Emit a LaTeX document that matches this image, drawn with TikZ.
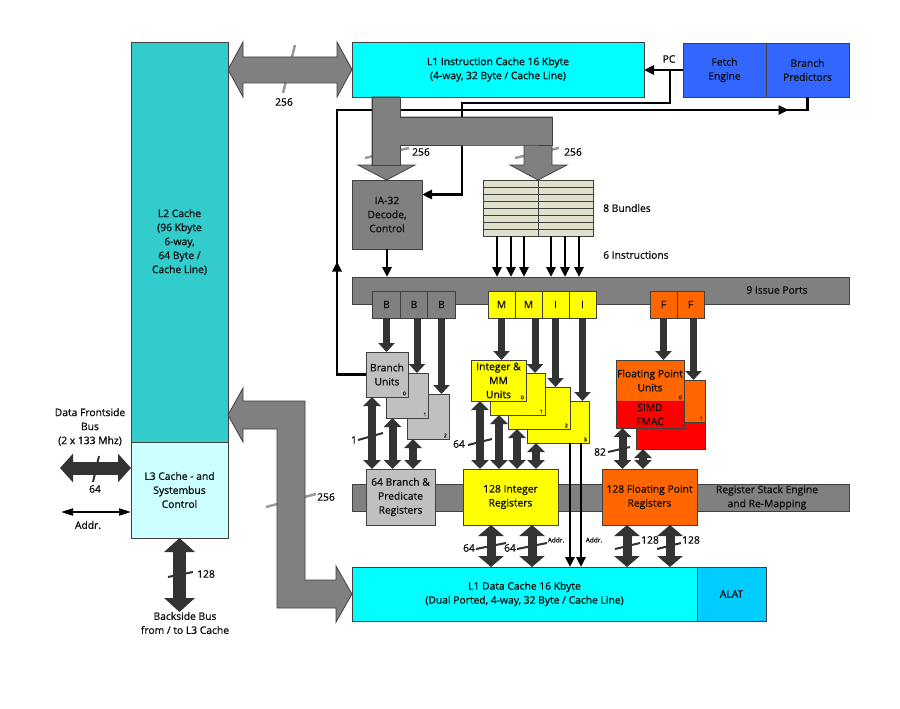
\documentclass[tikz,border=0pt]{standalone}
\usepackage{fontspec}
\setmainfont{Open Sans}[FakeBold=1.2]
\usetikzlibrary{arrows.meta,calc,decorations.markings}
\definecolor{teal2}{HTML}{33CCCC}
\definecolor{lcyan}{HTML}{CCFFFF}
\definecolor{cyan1}{HTML}{00FFFF}
\definecolor{alat}{HTML}{00CCFF}
\definecolor{blue1}{HTML}{3366FF}
\definecolor{gray1}{HTML}{808080}
\definecolor{lgray}{HTML}{C0C0C0}
\definecolor{yel}{HTML}{FFFF00}
\definecolor{orng}{HTML}{FF6600}
\definecolor{red1}{HTML}{FF0000}
\definecolor{darkc}{HTML}{333333}
\definecolor{bord}{HTML}{404040}
\definecolor{bund}{HTML}{E0E0CC}
\definecolor{slashc}{HTML}{999999}
\definecolor{txt}{HTML}{111111}
\begin{document}
\begin{tikzpicture}[x=1pt,y=-1pt,
  font=\fontsize{10.3}{14}\selectfont,
  blk/.style={draw=bord, line width=0.8pt, inner sep=0pt, outer sep=0pt, align=center, text=txt},
  lab/.style={text=txt, inner sep=0pt, align=center},
  small/.style={text=txt, inner sep=0pt, font=\fontsize{6.5}{7}\selectfont},
  idx/.style={text=txt, inner sep=0pt, font=\fontsize{5}{5}\selectfont, anchor=south east},
  garr/.style={fill=gray1, draw=bord, line width=0.8pt, line join=miter},
  parr/.style={draw=darkc, line width=7pt, -{Triangle[width=16pt,length=9pt]}},
  udarr/.style={draw=darkc, line width=8pt, {Triangle[width=17pt,length=9pt]}-{Triangle[width=17pt,length=9pt]}},
  bdarr/.style={draw=darkc, line width=9pt, {Triangle[width=25pt,length=11pt]}-{Triangle[width=25pt,length=11pt]}},
  busarr/.style={draw=darkc, line width=13pt, {Triangle[width=28pt,length=13pt]}-{Triangle[width=28pt,length=13pt]}},
  bline/.style={draw=black, line width=2.5pt},
  btip/.style={-{Triangle[width=9pt,length=10pt]}},
  slash/.style={draw=slashc, line width=2.5pt},
  dslash/.style={draw=darkc, line width=2pt}]
\useasboundingbox[fill=white] (0,0) rectangle (900,709);

% ---------- top blocks ----------
\node[blk, fill=blue1, minimum width=83pt, minimum height=54pt] (fetch) at (724.5,70) {Fetch\\Engine};
\node[blk, fill=blue1, minimum width=83pt, minimum height=54pt] (pred) at (807.5,70) {Branch\\Predictors};
\node[blk, fill=cyan1, minimum width=292pt, minimum height=55pt] (l1i) at (498,69.5) {L1 Instruction Cache 16 Kbyte\\(4-way, 32 Byte / Cache Line)};
\node[blk, fill=gray1, minimum width=70pt, minimum height=69pt] (dec) at (387,214.5) {IA-32\\Decode,\\Control};

\coordinate (pcj) at (670,69.5);
\coordinate (dj) at (462,103);
\coordinate (dtarget) at ([yshift=20pt]dec.east);
\draw[bline, btip] (fetch.west) -- (fetch.west -| l1i.east);
\node[lab] (pc) at (669,59) {PC};
\draw[bline, btip] (pcj) |- (dj) |- (dtarget);

% ---------- gray buses ----------
\draw[slash] (295,45) -- (283,93);
\draw[garr] (228,69.5) -- (243,42) -- (243,57) -- (337,57) -- (337,42) -- (352,69.5) -- (337,97) -- (337,83) -- (243,83) -- (243,97) -- cycle;
\node[lab] (n256a) at (284,102) {256};

\draw[slash] (365,158) -- (409,148);
\draw[slash] (515,158) -- (559,148);

% ---------- bundles ----------
\node[blk, fill=bund, minimum width=110pt, minimum height=56pt] (bund) at (538,208) {};
\foreach \i in {1,...,7} \draw[draw=bord, line width=0.8pt] ([yshift=-7*\i pt]bund.north west) -- ([yshift=-7*\i pt]bund.north east);
\draw[draw=bord, line width=0.8pt] (bund.north) -- (bund.south);
\node[lab, anchor=west] (nb) at (603,208) {8 Bundles};

% ---------- issue ports ----------
\node[blk, fill=gray1, minimum width=497pt, minimum height=27pt] (issue) at (600.5,290.5) {};
\node[lab] (nip) at (777,290) {9 Issue Ports};
\node[lab, anchor=west] (ni) at (603,255) {6 Instructions};
\foreach \d [count=\k] in {14,28,41,68,82,96} {
  \coordinate (ia\k) at ([xshift=\d pt]bund.south west);
  \draw[bline, btip] (ia\k) -- (ia\k |- issue.north);
}
\draw[bline, btip] (dec.south) -- (dec.south |- issue.north);

% L1I to decode/bundles bus
\draw[garr] (372,97) -- (400,97) -- (400,117) -- (552,117) -- (552,165) -- (567,165) -- (538,180) -- (510,165) -- (524,165) -- (524,145) -- (400,145) -- (400,165) -- (415,165) -- (386.5,180) -- (358,165) -- (372,165) -- cycle;
\node[lab] (n256b) at (421,152) {256};
\node[lab] (n256c) at (573,152) {256};

\node[blk, fill=gray1, minimum width=27.5pt, minimum height=27pt] (b1) at (386.5,304.5) {B};
\node[blk, fill=gray1, minimum width=27.5pt, minimum height=27pt] (b2) at (414,304.5) {B};
\node[blk, fill=gray1, minimum width=27.5pt, minimum height=27pt] (b3) at (441.5,304.5) {B};
\node[blk, fill=yel, minimum width=27pt, minimum height=27pt] (m1) at (501.5,304.5) {M};
\node[blk, fill=yel, minimum width=27pt, minimum height=27pt] (m2) at (528.5,304.5) {M};
\node[blk, fill=yel, minimum width=27pt, minimum height=27pt] (i1) at (555.5,304.5) {I};
\node[blk, fill=yel, minimum width=27pt, minimum height=27pt] (i2) at (582.5,304.5) {I};
\node[blk, fill=orng, minimum width=27pt, minimum height=27pt] (f1) at (663.5,304.5) {F};
\node[blk, fill=orng, minimum width=27pt, minimum height=27pt] (f2) at (690.5,304.5) {F};

% ---------- register stack bar ----------
\node[blk, fill=gray1, minimum width=497pt, minimum height=27pt] (rse) at (600.5,497.5) {};
\node[lab] (nrse) at (767,497.5) {Register Stack Engine\\and Re-Mapping};

% ---------- execution units ----------
\node[blk, fill=lgray, minimum width=42pt, minimum height=45pt] (bu2) at (428,416.5) {};
\node[blk, fill=lgray, minimum width=42pt, minimum height=45pt] (bu1) at (407.5,395.5) {};
\node[blk, fill=lgray, minimum width=42pt, minimum height=45pt] (bu0) at (387,374.5) {Branch\\Units};
\node[idx] (ib2) at ([xshift=-2pt,yshift=1.5pt]bu2.south east) {2};
\node[idx] (ib1) at ([xshift=-2pt,yshift=1.5pt]bu1.south east) {1};
\node[idx] (ib0) at ([xshift=-2pt,yshift=1.5pt]bu0.south east) {0};

\node[blk, fill=yel, minimum width=62pt, minimum height=42pt] (int3) at (558,422) {};
\node[blk, fill=yel, minimum width=62pt, minimum height=42pt] (int2) at (539,408) {};
\node[blk, fill=yel, minimum width=55pt, minimum height=42pt] (int1) at (517.5,394) {};
\node[blk, fill=yel, minimum width=55pt, minimum height=41pt] (int0) at (498.5,380.5) {Integer \&\\MM\\Units};
\node[idx] (ii3) at ([xshift=-2pt,yshift=1.5pt]int3.south east) {3};
\node[idx] (ii2) at ([xshift=-2pt,yshift=1.5pt]int2.south east) {2};
\node[idx] (ii1) at ([xshift=-2pt,yshift=1.5pt]int1.south east) {1};
\node[idx] (ii0) at ([xshift=-2pt,yshift=1.5pt]int0.south east) {0};

\node[blk, fill=orng, minimum width=69pt, minimum height=42pt] (fp1) at (670.5,401) {};
\node[blk, fill=red1, minimum width=69pt, minimum height=27pt] (fm1) at (670.5,435.5) {};
\node[blk, fill=orng, minimum width=68pt, minimum height=41pt] (fp0) at (650,380.5) {Floating Point\\Units};
\node[blk, fill=red1, minimum width=68pt, minimum height=27pt] (fm0) at (650,414.5) {SIMD\\FMAC};
\node[idx] (if1) at ([xshift=-2pt,yshift=1.5pt]fp1.south east) {1};
\node[idx] (if0) at ([xshift=-2pt,yshift=1.5pt]fp0.south east) {0};

% ---------- registers ----------
\node[blk, fill=lgray, minimum width=69pt, minimum height=56pt] (breg) at (400.5,497) {64 Branch \&\\Predicate\\Registers};
\node[blk, fill=yel, minimum width=95pt, minimum height=56pt] (ireg) at (510.5,497) {128 Integer\\Registers};
\node[blk, fill=orng, minimum width=95pt, minimum height=56pt] (freg) at (649.5,497) {128 Floating Point\\Registers};

% ---------- L1 data cache ----------
\node[blk, fill=cyan1, minimum width=345pt, minimum height=54pt] (l1d) at (524.5,594) {L1 Data Cache 16 Kbyte\\(Dual Ported, 4-way, 32 Byte / Cache Line)};
\node[blk, fill=alat, minimum width=69pt, minimum height=54pt] (alat) at (731.5,594) {ALAT};

% ---------- L2 / L3 ----------
\node[blk, fill=teal2, minimum width=97pt, minimum height=400pt] (l2) at (179.5,242) {L2 Cache\\(96 Kbyte\\6-way,\\64 Byte /\\Cache Line)};
\node[blk, fill=lcyan, minimum width=97pt, minimum height=96pt] (l3) at (179.5,490) {L3 Cache - and\\Systembus\\Control};

% branch feedback line
\coordinate (bj1) at (337,110);
\draw[bline, postaction={decorate}, decoration={markings,
   mark=at position 142pt with {\arrow{Triangle[width=9pt,length=10pt]}},
   mark=at position 745pt with {\arrow{Triangle[width=9pt,length=10pt]}}}]
   (bu0.west) -| (bj1) -| (pred.south);
% redraw bus over feedback line
\draw[garr] (372,97) -- (400,97) -- (400,117) -- (552,117) -- (552,145) -- (524,145) -- (400,145) -- (400,165) -- (372,165) -- cycle;
\fill[gray1] (373,98) rectangle (399,164) (401,118) rectangle (551,144);

% port arrows
\draw[parr] (b1.south) -- (b1.south |- bu0.north);
\coordinate (pb2) at ([xshift=3pt]b2.south);
\draw[parr] (pb2) -- (pb2 |- bu1.north);
\draw[parr] (b3.south) -- (b3.south |- bu2.north);
\draw[parr] (m1.south) -- (m1.south |- int0.north);
\coordinate (pm2) at ([xshift=6.5pt]m2.south);
\draw[parr] (pm2) -- (pm2 |- int1.north);
\draw[parr] (i1.south) -- (i1.south |- int2.north);
\draw[parr] (i2.south) -- (i2.south |- int3.north);
\draw[parr] (f1.south) -- (f1.south |- fp0.north);
\coordinate (pf2) at ([xshift=3pt]f2.south);
\draw[parr] (pf2) -- (pf2 |- fp1.north);

% unit <-> register arrows
\draw[dslash] (358,440) -- (383,433);
\node[lab] (n1) at (354,440) {1};
\foreach \u in {bu0,bu1,bu2} {
  \coordinate (q\u) at ([xshift=6pt]\u.south west);
  \draw[udarr] (q\u) -- (q\u |- breg.north);
}
\draw[dslash] (468,445) -- (492,439);
\node[lab] (n64a) at (459,444) {64};
\foreach \u in {int0,int1,int2,int3} {
  \coordinate (q\u) at ([xshift=9pt]\u.south west);
  \draw[udarr] (q\u) -- (q\u |- ireg.north);
}
\draw[dslash] (608,452) -- (630,447);
\node[lab] (n82) at (600,452) {82};
\coordinate (qfm0) at ([xshift=6.5pt]fm0.south west);
\draw[udarr] (qfm0) -- (qfm0 |- freg.north);
\coordinate (qfm1) at ([xshift=7pt]fm1.south west);
\draw[udarr] (qfm1) -- (qfm1 |- freg.north);

% address lines
\coordinate (ad1) at ([xshift=43pt]int3.south west);
\coordinate (ad2) at ([xshift=54pt]int3.south west);
\draw[bline, btip] (ad1) -- (ad1 |- l1d.north);
\draw[bline, btip] (ad2) -- (ad2 |- l1d.north);
\node[small] (na1) at (556,540) {Addr.};
\node[small] (na2) at (594,540) {Addr.};

% register <-> L1D arrows
\draw[dslash] (476,549) -- (506,543);
\draw[dslash] (517,549) -- (547,543);
\draw[dslash] (615,549) -- (640,543);
\draw[dslash] (657,549) -- (681,543);
\foreach \s/\n in {28/ireg,69/ireg,25/freg,68/freg} {
  \coordinate (r\s) at ([xshift=\s pt]\n.south west);
  \draw[bdarr] (r\s) -- (r\s |- l1d.north);
}
\node[lab] (n64b) at (469,548) {64};
\node[lab] (n64c) at (510,548) {64};
\node[lab] (n128a) at (650,540) {128};
\node[lab] (n128b) at (691,540) {128};

% L1D -> L2 bus
\draw[slash] (266,507) -- (316,494);
\draw[garr] (228,415) -- (243,388) -- (243,401) -- (305,401) -- (305,580) -- (336,580) -- (336,566) -- (352,594) -- (336,622) -- (336,608) -- (277,608) -- (277,429) -- (243,429) -- (243,442) -- cycle;
\node[lab] (n256d) at (326,497) {256};

% front side bus
\coordinate (fsb) at (60,468);
\coordinate (fsbr) at ([yshift=22pt]l3.west);
\draw[dslash] (99,456) -- (93,482);
\draw[busarr] (fsb) -- (fsbr);
\node[lab] (nfsb) at (90,427) {Data Frontside\\Bus\\(2 x 133 Mhz)};
\node[lab] (n64d) at (95,489) {64};
\coordinate (adl) at (61,512);
\coordinate (adr) at ([yshift=-22pt]l3.west);
\draw[draw=black, line width=2pt, {Triangle[width=7pt,length=12pt]}-{Triangle[width=7pt,length=12pt]}] (adl) -- (adr);
\node[lab] (naddr) at (88,525) {Addr.};

% backside bus
\coordinate (bsb) at (179.5,612);
\draw[dslash] (168,577) -- (193,572);
\draw[draw=darkc, line width=13pt, {Triangle[width=30pt,length=14pt]}-{Triangle[width=30pt,length=14pt]}] (l3.south) -- (bsb);
\node[lab] (n128c) at (206,574) {128};
\node[lab] (nbsb) at (185,623) {Backside Bus\\from / to L3 Cache};
\end{tikzpicture}
\end{document}
